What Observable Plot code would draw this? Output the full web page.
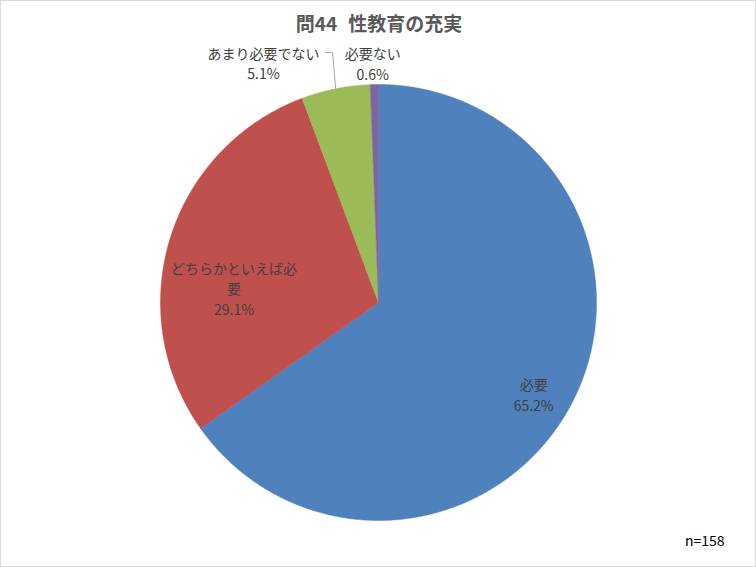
<!DOCTYPE html>
<html>
<head>
<meta charset="utf-8">
<script src="https://cdn.jsdelivr.net/npm/d3@7"></script>
<script src="https://cdn.jsdelivr.net/npm/@observablehq/plot@0.6"></script>
<style>
  html, body { margin: 0; padding: 0; background: #fff; }
  #wrap { position: relative; width: 756px; height: 567px; overflow: hidden; font-family: "Noto Sans CJK JP", sans-serif; }
  #title { height: 44px; width: 756px; text-align: center; font-size: 19px; font-weight: bold; color: #595959; line-height: 46px; box-sizing: border-box; padding-left: 2px; }
  #title .gap { display: inline-block; width: 11px; }
  #border { position: absolute; left: 0; top: 0; width: 756px; height: 567px; box-sizing: border-box; border: 1px solid #d9d9d9; pointer-events: none; }
  svg { display: block; }
</style>
</head>
<body>
<div id="wrap">
  <div id="title">問44<span class="gap"></span>性教育の充実</div>
  <div id="chart"></div>
  <div id="border"></div>
</div>
<script>
// ---- data ----
const categories = ["必要", "どちらかといえば必要", "あまり必要でない", "必要ない"];
const labelNames = ["必要", "どちらかといえば必\n要", "あまり必要でない", "必要ない"];
const values = [65.2, 29.1, 5.1, 0.6];
const colors = ["#4F81BD", "#C0504D", "#9BBB59", "#8064A2"];
const sampleNote = "n=158";

// ---- layout (not data) ----
const W = 756, H = 523, R = 218, CX = 378, CY = 258;
// label placement: radius factor and angle shift (degrees) relative to slice mid-angle
const labelLayout = [
  {rf: 0.826, da: 3.1},
  {rf: 0.666, da: -11.3},
  {rf: 1.22, da: -14.3},
  {rf: 1.099, da: -0.3}
];
const leaderFor = [false, false, true, false];

const total = d3.sum(values);
const deg = Math.PI / 180;
const pt = (theta, r) => ({x: r * Math.sin(theta * deg), y: r * Math.cos(theta * deg)});

// build slice polygons from values
const slicePts = [];
const labels = [];
const leaders = [];
let start = 0;
values.forEach((v, i) => {
  const sweep = v / total * 360;
  const end = start + sweep;
  slicePts.push({key: categories[i], x: 0, y: 0});
  const n = Math.max(2, Math.ceil(sweep / 0.25));
  for (let k = 0; k <= n; k++) {
    const p = pt(start + sweep * k / n, 1);
    slicePts.push({key: categories[i], x: p.x, y: p.y});
  }
  slicePts.push({key: categories[i], x: 0, y: 0});
  const mid = start + sweep / 2;
  const lp = pt(mid + labelLayout[i].da, labelLayout[i].rf);
  labels.push({x: lp.x, y: lp.y, text: labelNames[i] + "\n" + v.toFixed(1) + "%"});
  if (leaderFor[i]) {
    const e = pt(mid, 1.0);
    const lines = labelNames[i].split("\n").length + 1;
    const firstLineY = lp.y + ((lines - 1) / 2) * 20.5 / R;
    leaders.push({g: i, x: e.x, y: e.y});
    leaders.push({g: i, x: e.x - 3 / R, y: firstLineY});
    leaders.push({g: i, x: e.x - 10 / R, y: firstLineY});
  }
  start = end;
});

const chart = Plot.plot({
  width: W,
  height: H,
  margin: 0,
  x: {domain: [-CX / R, (W - CX) / R], axis: null},
  y: {domain: [-(H - CY) / R, CY / R], axis: null},
  color: {domain: categories, range: colors},
  style: {fontFamily: "'Noto Sans CJK JP', sans-serif", background: "white", overflow: "visible"},
  marks: [
    Plot.line(slicePts, {x: "x", y: "y", z: "key", fill: "key", stroke: "key", strokeWidth: 0.5, curve: "linear"}),
    Plot.line(leaders, {x: "x", y: "y", z: "g", stroke: "#a6a6a6", strokeWidth: 1}),
    Plot.text(labels, {x: "x", y: "y", text: "text", fill: "#404040", fontSize: 14, lineHeight: 1.46, textAnchor: "middle"}),
    Plot.text([sampleNote], {frameAnchor: "bottom-right", text: d => d, dx: -32, dy: -22, fill: "#000", fontSize: 14, textAnchor: "end"})
  ]
});
document.getElementById("chart").appendChild(chart);
</script>
</body>
</html>
